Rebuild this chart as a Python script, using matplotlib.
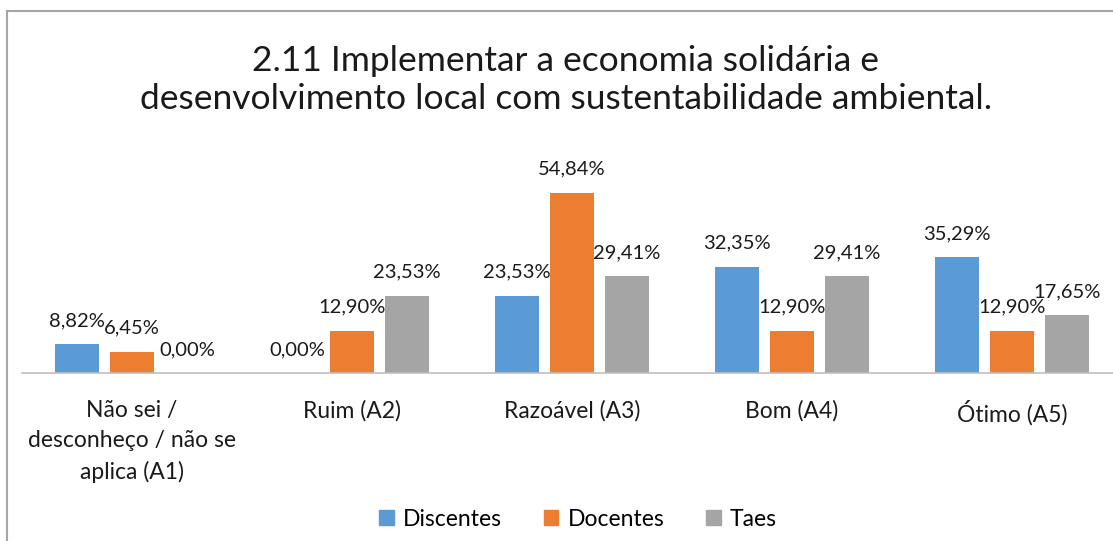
import matplotlib.pyplot as plt
from matplotlib.lines import Line2D
from matplotlib.patches import Patch
import numpy as np

plt.rcParams['font.family'] = ['Lato', 'DejaVu Sans']

categories = ['Não sei /\ndesconheço / não se\naplica (A1)', 'Ruim (A2)',
              'Razoável (A3)', 'Bom (A4)', 'Ótimo (A5)']
series = ['Discentes', 'Docentes', 'Taes']
discentes = [8.82, 0.00, 23.53, 32.35, 35.29]
docentes = [6.45, 12.90, 54.84, 12.90, 12.90]
taes = [0.00, 23.53, 29.41, 29.41, 17.65]
colors = ['#5B9BD5', '#ED7D31', '#A5A5A5']

W, H = 1113, 541
fig = plt.figure(figsize=(W / 100, H / 100), dpi=100)
ax = fig.add_axes([22 / W, 168 / H, 1100 / W, 197 / H])

x = np.arange(len(categories))
bw = 0.2
step = 0.25
for i, (vals, col) in enumerate(zip([discentes, docentes, taes], colors)):
    pos = x + (i - 1) * step
    ax.bar(pos, vals, width=bw, color=col, zorder=2)
    for p, v in zip(pos, vals):
        ax.annotate(f'{v:.2f}%'.replace('.', ','), (p, v), xytext=(0, 17),
                    textcoords='offset points', ha='center', va='center',
                    fontsize=14.5, color='#1a1a1a')

ax.set_xlim(-0.5, len(categories) - 0.5)
ax.set_ylim(0, 60)
for s in ['top', 'right', 'left']:
    ax.spines[s].set_visible(False)
ax.spines['bottom'].set_color('#BFBFBF')
ax.spines['bottom'].set_linewidth(1.2)
ax.set_yticks([])
ax.set_xticks(x)
ax.set_xticklabels(categories, fontsize=16.5, color='#1a1a1a', linespacing=1.55)
ax.tick_params(axis='x', length=0, pad=19.5)

fig.text(0.5085, 1 - 80 / H,
         '2.11 Implementar a economia solidária e\ndesenvolvimento local com sustentabilidade ambiental.',
         ha='center', va='center', fontsize=25.5, color='#1a1a1a', linespacing=1.22)

handles = [Patch(color=c, label=s) for c, s in zip(colors, series)]
fig.legend(handles=handles, loc='center', bbox_to_anchor=(578 / W, 1 - 519 / H),
           ncol=3, frameon=False, fontsize=16.5, handlelength=0.65, handleheight=0.65,
           handletextpad=0.4, columnspacing=1.8)

# chart border (only top and left edges are visible)
bx, by = 6.5 / W, 1 - 10.5 / H
fig.add_artist(Line2D([bx, bx], [0, by], transform=fig.transFigure, color='#A6A6A6', lw=1.5))
fig.add_artist(Line2D([bx, 1], [by, by], transform=fig.transFigure, color='#A6A6A6', lw=1.5))

fig.savefig('out.png', dpi=100)
